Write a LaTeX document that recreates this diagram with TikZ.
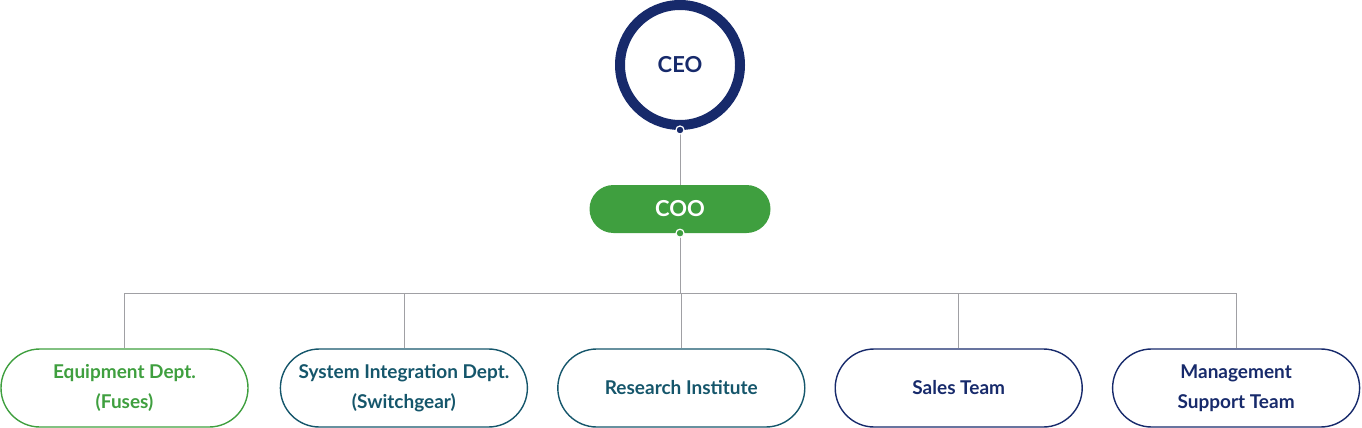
\documentclass[tikz,border=0pt]{standalone}
\usepackage{fontspec}
\setmainfont{Lato}
\usepackage{tikz}
\usetikzlibrary{calc,positioning}
\definecolor{navy}{HTML}{172A6B}
\definecolor{leaf}{HTML}{3F9F3F}
\definecolor{teal}{HTML}{15566B}
\definecolor{wire}{HTML}{A0A0A4}

\begin{document}
\begin{tikzpicture}[x=1pt, y=-1pt, every node/.style={font=\bfseries\fontsize{19}{30}\selectfont, align=center},
	dept/.style={draw, line width=1.4pt, rounded corners=39pt, minimum width=247pt, minimum height=78pt, inner sep=0pt},
	joint/.style={circle, fill=#1, draw=white, line width=1.2pt, minimum size=8pt, inner sep=0pt}]
		\useasboundingbox (0,0) rectangle (1362,428);
		
		\node[circle, draw=navy, line width=10pt, minimum size=120pt, text=navy, font=\bfseries\fontsize{22}{26}\selectfont] (ceo) at (680,65) {CEO};
		
		\node[fill=leaf, rounded corners=24pt, minimum width=181pt, minimum height=48pt, text=white, font=\bfseries\fontsize{22}{26}\selectfont] (coo) at (680,209) {COO};
		
		\node[dept, draw=leaf, text=leaf] (d1) at (124.5,388) {Equipment Dept.\\(Fuses)};
		
		\node[dept, draw=teal, text=teal, right =31pt of d1] (d2) {System Integration Dept.\\(Switchgear)};
		
		\node[dept, draw=teal, text=teal, right =29pt of d2] (d3) {Research Institute};
		
		\node[dept, draw=navy, text=navy, right =29pt of d3] (d4) {Sales Team};
		
		\node[dept, draw=navy, text=navy, right =29pt of d4] (d5) {Management\\Support Team};
		
		\coordinate (bus) at (680,293);
		
		\draw[wire, line width=0.8pt] (ceo.south) -- (coo.north);
		\draw[wire, line width=0.8pt] (coo.south) -- (bus);
		\foreach \d in {d1,d2,d3,d4,d5}
			\draw[wire, line width=0.8pt] (\d.north) |- (bus);
		
		\node[joint=navy] at (ceo.south) {};
		\node[joint=leaf] at (coo.south) {};
		\end{tikzpicture}
\end{document}
